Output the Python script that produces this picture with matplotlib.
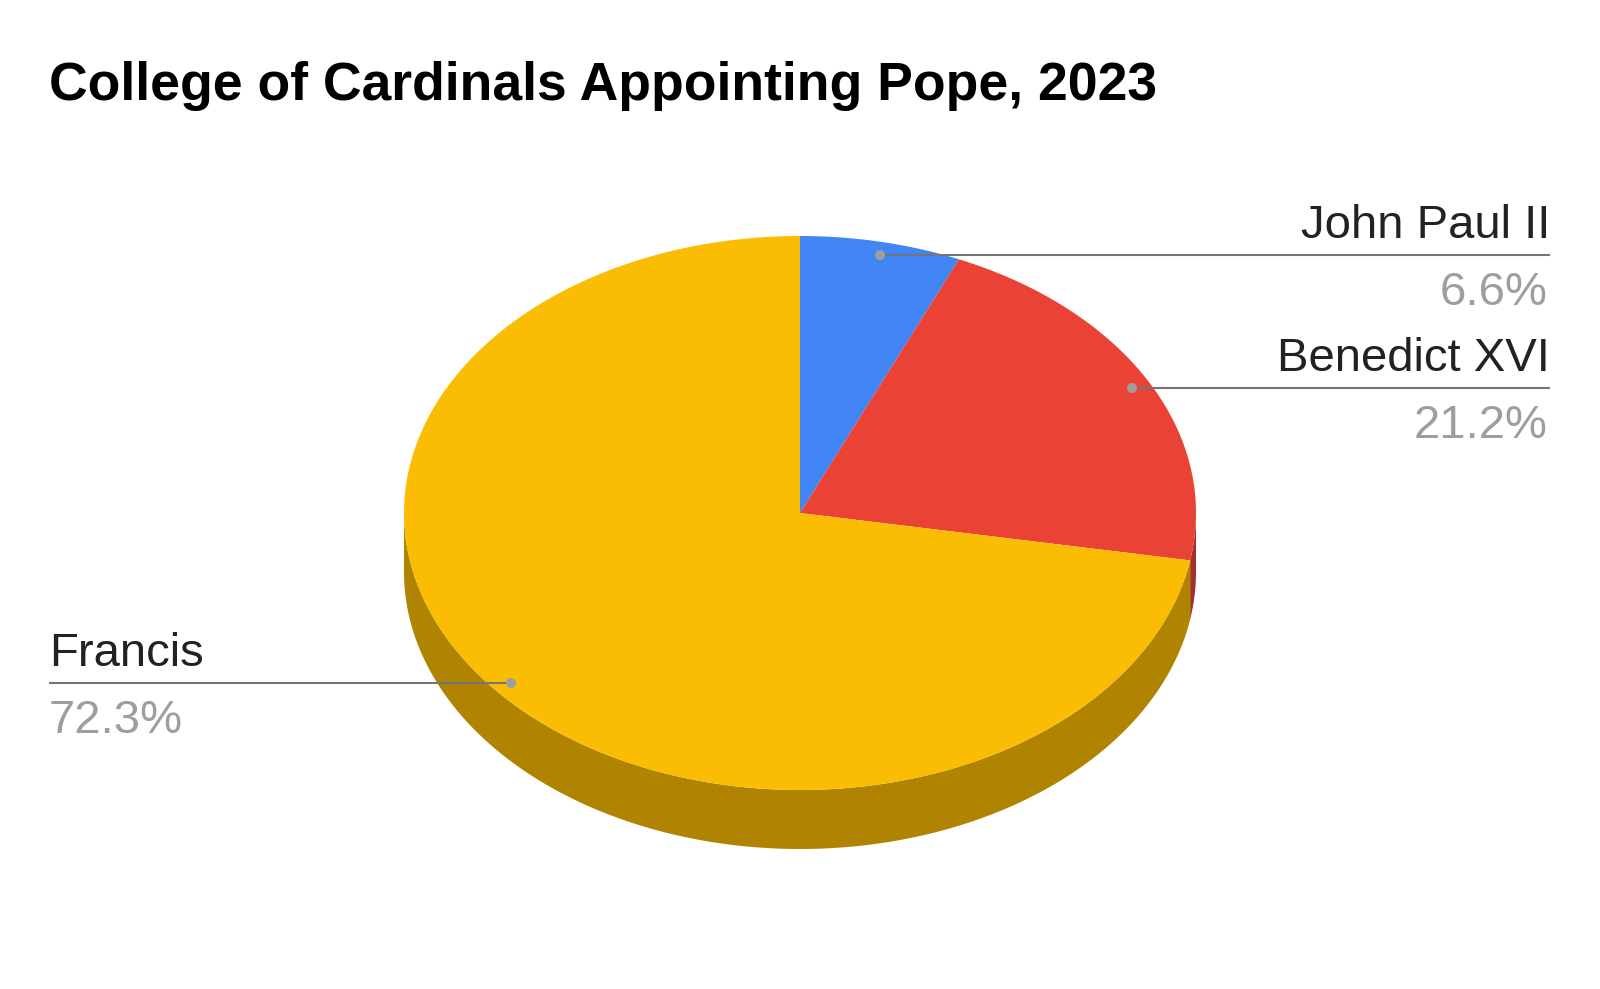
import numpy as np
import matplotlib.pyplot as plt
from matplotlib.patches import Polygon, Circle

plt.rcParams['font.family'] = ['Liberation Sans', 'DejaVu Sans']

# data: cardinal electors by appointing pope
popes = ['John Paul II', 'Benedict XVI', 'Francis']
counts = [9, 29, 99]
colors = ['#4285f4', '#ea4335', '#fbbc04']
side_colors = ['#2e5dab', '#a3302a', '#b08400']

W, H = 1600, 989
fig = plt.figure(figsize=(W / 100, H / 100), dpi=100)
ax = fig.add_axes([0, 0, 1, 1])
ax.set_xlim(0, W)
ax.set_ylim(H, 0)
ax.axis('off')

# pie geometry (pixel coords)
cx, cy = 800, 513
rx, ry = 396, 277
depth = 59

total = sum(counts)
fracs = [c / total for c in counts]
bounds = np.concatenate([[0], np.cumsum(fracs)]) * 2 * np.pi  # clockwise from top


def pt(t, dy=0):
    return cx + rx * np.sin(t), cy - ry * np.cos(t) + dy


# side walls (front half only: t in [pi/2, 3pi/2])
for i in range(len(counts)):
    a, b = max(bounds[i], np.pi / 2), min(bounds[i + 1], 3 * np.pi / 2)
    if b <= a:
        continue
    t = np.linspace(a, b, 200)
    xs, ys = pt(t)
    xb, yb = pt(t[::-1], depth)
    poly = np.column_stack([np.concatenate([xs, xb]), np.concatenate([ys, yb])])
    ax.add_patch(Polygon(poly, closed=True, fc=side_colors[i], ec='none'))

# top faces
for i in range(len(counts)):
    t = np.linspace(bounds[i], bounds[i + 1], 400)
    xs, ys = pt(t)
    poly = np.column_stack([np.concatenate([[cx], xs]), np.concatenate([[cy], ys])])
    ax.add_patch(Polygon(poly, closed=True, fc=colors[i], ec='none'))

ax.text(49, 100, 'College of Cardinals Appointing Pope, 2023', fontsize=38.5,
        fontweight='bold', color='black', ha='left', va='baseline')

# labels with leader lines
dots = [(880, 255), (1132, 388), (511, 683)]
sides = ['right', 'right', 'left']
for i, name in enumerate(popes):
    dx, dy = dots[i]
    if sides[i] == 'right':
        lx, ha, px = 1550, 'right', 1547
    else:
        lx, ha, px = 49, 'left', 49
    ax.plot([dx, lx], [dy, dy], color='#757575', lw=1.5, solid_capstyle='butt')
    ax.add_patch(Circle((dx, dy), 5, fc='#9e9e9e', ec='none', zorder=5))
    ax.text(lx, dy - 17, name, fontsize=34, color='#222222', ha=ha, va='baseline')
    ax.text(px, dy + 50, '%.1f%%' % (fracs[i] * 100),
            fontsize=34, color='#9e9e9e', ha=ha, va='baseline')

fig.savefig('out.png', dpi=100, facecolor='white')
